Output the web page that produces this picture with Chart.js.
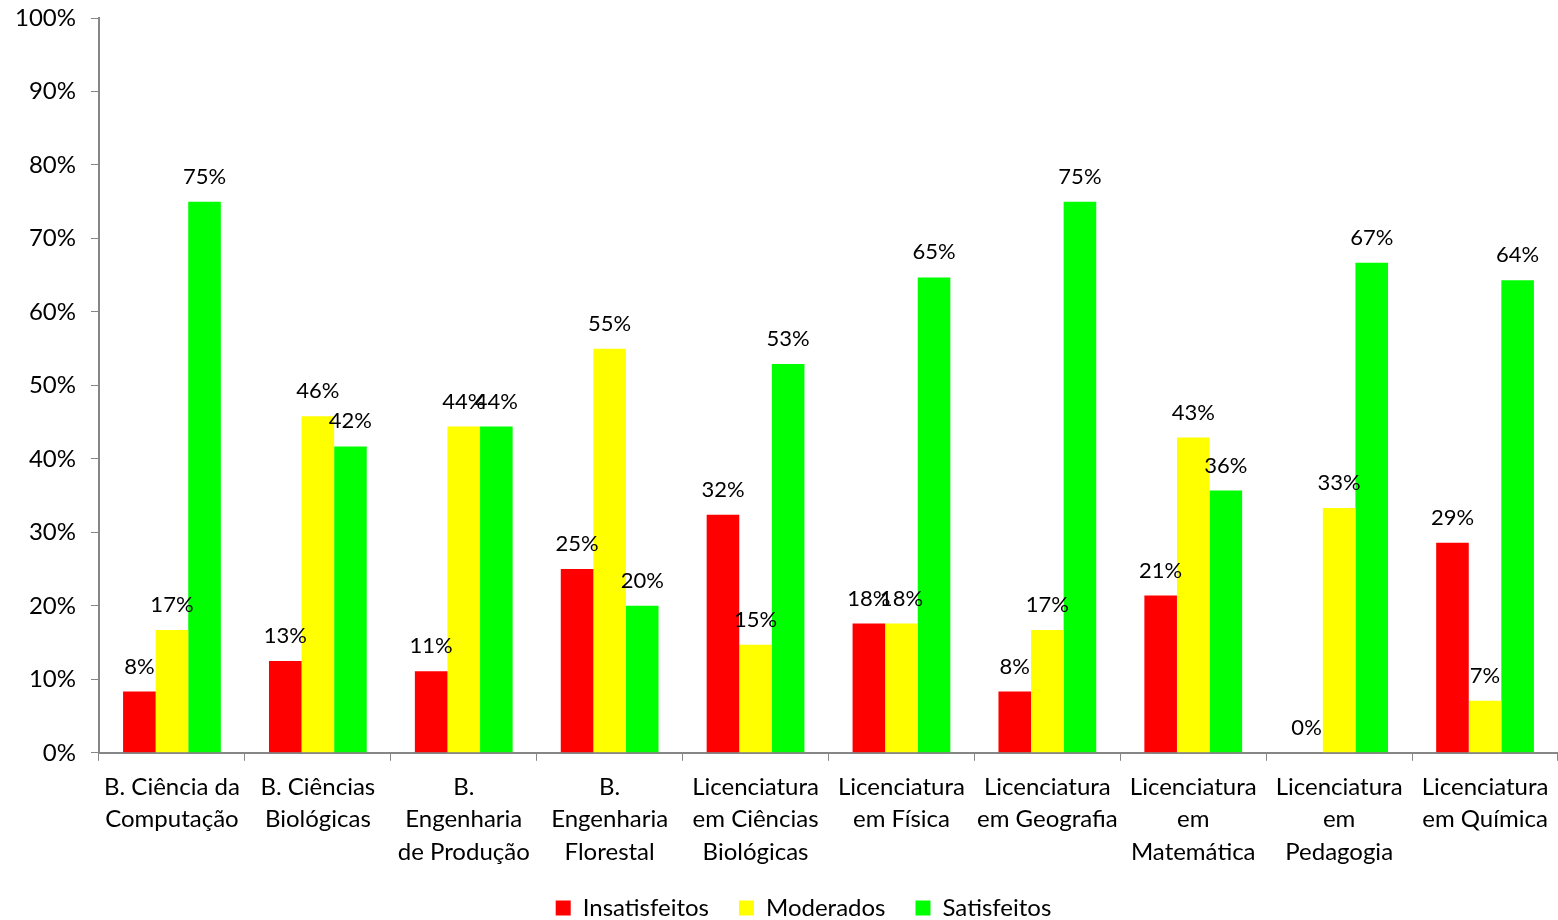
<!DOCTYPE html>
<html>
<head>
<meta charset="utf-8">
<script src="https://cdn.jsdelivr.net/npm/chart.js@4.4.1/dist/chart.umd.min.js"></script>
<style>
  html, body { margin: 0; padding: 0; background: #fff; }
  #wrap { width: 1558px; height: 920px; }
</style>
</head>
<body>
<div id="wrap"><canvas id="surveyChart"></canvas></div>
<script>
var courses = [
    ['B. Ciência da', 'Computação'],
    ['B. Ciências', 'Biológicas'],
    ['B.', 'Engenharia', 'de Produção'],
    ['B.', 'Engenharia', 'Florestal'],
    ['Licenciatura', 'em Ciências', 'Biológicas'],
    ['Licenciatura', 'em Física'],
    ['Licenciatura', 'em Geografia'],
    ['Licenciatura', 'em', 'Matemática'],
    ['Licenciatura', 'em', 'Pedagogia'],
    ['Licenciatura', 'em Química']
];
var insatisfeitos = [8.33, 12.5, 11.1, 25, 32.4, 17.6, 8.33, 21.4, 0, 28.6];
var moderados = [16.7, 45.8, 44.4, 55, 14.7, 17.6, 16.7, 42.9, 33.3, 7.1];
var satisfeitos = [75, 41.7, 44.4, 20, 52.9, 64.7, 75, 35.7, 66.7, 64.3];
var yTicks = [0, 10, 20, 30, 40, 50, 60, 70, 80, 90, 100];

var fontFamily = 'Lato, "Open Sans", sans-serif';
var axisGray = '#868686';

// value labels above each bar
var barLabels = {
    id: 'barLabels',
    afterLayout: function (chart) {
        // legend sits a little right of the canvas centre
        chart.legend.left += 20;
        chart.legend.right += 20;
    },
    afterDatasetsDraw: function (chart) {
        var ctx = chart.ctx;
        ctx.save();
        ctx.font = '22px ' + fontFamily;
        ctx.fillStyle = '#000';
        ctx.textAlign = 'center';
        ctx.textBaseline = 'middle';
        chart.data.datasets.forEach(function (ds, i) {
            chart.getDatasetMeta(i).data.forEach(function (bar, j) {
                ctx.fillText(Math.round(ds.data[j]) + '%', bar.x, bar.y - 25);
            });
        });
        ctx.restore();
    }
};

var surveyCtx = document.getElementById('surveyChart').getContext('2d');
var surveyChart = new Chart(surveyCtx, {
    type: 'bar',
    data: {
        labels: courses,
        datasets: [{
            label: 'Insatisfeitos',
            data: insatisfeitos,
            backgroundColor: '#ff0000'
        }, {
            label: 'Moderados',
            data: moderados,
            backgroundColor: '#ffff00'
        }, {
            label: 'Satisfeitos',
            data: satisfeitos,
            backgroundColor: '#00ff00'
        }]
    },
    options: {
        responsive: true,
        maintainAspectRatio: false,
        animation: false,
        categoryPercentage: 0.67,
        barPercentage: 1,
        layout: { padding: { top: 0, right: -9, left: 0, bottom: -10 } },
        plugins: {
            tooltip: { enabled: false },
            legend: {
                position: 'bottom',
                labels: {
                    boxWidth: 15,
                    boxHeight: 15,
                    padding: 30,
                    color: '#000',
                    font: { family: fontFamily, size: 24 }
                }
            }
        },
        scales: {
            x: {
                afterFit: function (axis) {
                    axis.height -= 12;
                    axis.paddingLeft = 0;
                    axis.paddingRight = 0;
                },
                grid: {
                    offset: true,
                    drawOnChartArea: false,
                    tickLength: 8,
                    color: axisGray
                },
                border: { color: axisGray, width: 2 },
                ticks: {
                    color: '#000',
                    padding: 10,
                    maxRotation: 0,
                    autoSkip: false,
                    font: { family: fontFamily, size: 24, lineHeight: 1.35 }
                }
            },
            y: {
                min: 0,
                max: 100,
                afterBuildTicks: function (axis) {
                    axis.ticks = yTicks.map(function (v) { return { value: v }; });
                },
                afterFit: function (axis) {
                    axis.paddingTop = 18;
                    axis.paddingBottom = 0;
                },
                grid: {
                    drawOnChartArea: false,
                    tickLength: 8,
                    color: axisGray
                },
                border: { color: axisGray, width: 2 },
                ticks: {
                    color: '#000',
                    padding: 15,
                    font: { family: fontFamily, size: 24 },
                    callback: function (v) { return v + '%'; }
                }
            }
        }
    },
    plugins: [barLabels]
});
</script>
</body>
</html>
